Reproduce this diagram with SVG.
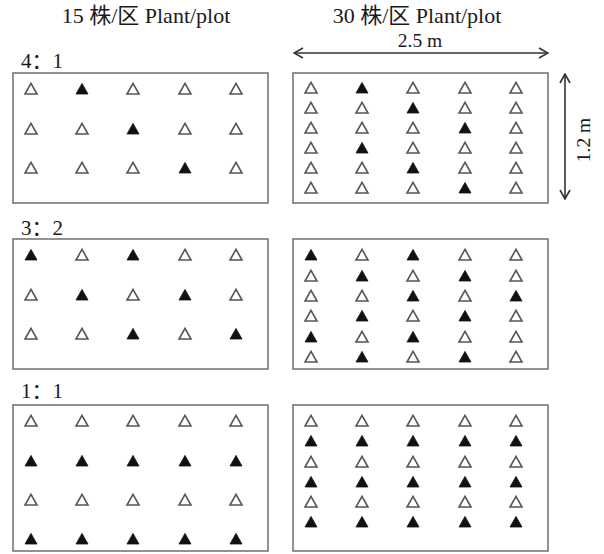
<svg xmlns="http://www.w3.org/2000/svg" xmlns:xlink="http://www.w3.org/1999/xlink" width="604" height="554" viewBox="0 0 604 554">
<style>
.bg{fill:#fff}
.plot{fill:#fff;stroke:#777;stroke-width:1.6}
.t{font-family:"Liberation Serif","Noto Sans CJK SC",serif;fill:#1a1a1a}
.title{font-size:22px}
.ratio{font-size:21px}
.dim{font-size:19.5px}
.o{fill:#fff;stroke:#555;stroke-width:1.6;stroke-linejoin:miter}
.f{fill:#111;stroke:#111;stroke-width:0.8}
.dl{stroke:#333;stroke-width:1.6;fill:none}
</style>
<defs>
<path id="tri" d="M0,-5.6 L6,5 L-6,5 Z"/>
<marker id="ah" viewBox="-11 -6 12 12" markerWidth="12" markerHeight="12" refX="0" refY="0" orient="auto-start-reverse" markerUnits="userSpaceOnUse">
<path d="M-9,-5 L0,0 L-9,5" fill="none" stroke="#333" stroke-width="1.6"/>
</marker>
</defs>
<rect class="bg" x="0" y="0" width="604" height="554"/>

<g id="headers">
<text class="t title" x="146" y="23" text-anchor="middle">15 株/区 Plant/plot</text>
<text class="t title" x="417" y="23" text-anchor="middle">30 株/区 Plant/plot</text>
</g>

<g id="labels">
<text class="t ratio" x="21" y="68">4：1</text>
<text class="t ratio" x="21" y="235">3：2</text>
<text class="t ratio" x="21" y="398">1：1</text>
</g>

<g id="connectors">
<line class="dl" x1="294" y1="53" x2="548" y2="53" marker-start="url(#ah)" marker-end="url(#ah)"/>
<text class="t dim" x="420" y="47" text-anchor="middle">2.5 m</text>
<line class="dl" x1="565" y1="74" x2="565" y2="199" marker-start="url(#ah)" marker-end="url(#ah)"/>
<text class="t dim" x="0" y="0" text-anchor="middle" transform="translate(590,140) rotate(-90)">1.2 m</text>
</g>

<g id="plot-4-1-15">
<rect class="plot" x="13" y="73" width="255" height="130"/>
<use href="#tri" class="o" x="31" y="89"/><use href="#tri" class="f" x="82" y="89"/><use href="#tri" class="o" x="133" y="89"/><use href="#tri" class="o" x="185" y="89"/><use href="#tri" class="o" x="236" y="89"/>
<use href="#tri" class="o" x="31" y="129"/><use href="#tri" class="o" x="82" y="129"/><use href="#tri" class="f" x="133" y="129"/><use href="#tri" class="o" x="185" y="129"/><use href="#tri" class="o" x="236" y="129"/>
<use href="#tri" class="o" x="31" y="168"/><use href="#tri" class="o" x="82" y="168"/><use href="#tri" class="o" x="133" y="168"/><use href="#tri" class="f" x="185" y="168"/><use href="#tri" class="o" x="236" y="168"/>
</g>

<g id="plot-4-1-30">
<rect class="plot" x="293" y="73" width="255" height="130"/>
<use href="#tri" class="o" x="311" y="88"/><use href="#tri" class="f" x="362" y="88"/><use href="#tri" class="o" x="413" y="88"/><use href="#tri" class="o" x="465" y="88"/><use href="#tri" class="o" x="516" y="88"/>
<use href="#tri" class="o" x="311" y="108"/><use href="#tri" class="o" x="362" y="108"/><use href="#tri" class="f" x="413" y="108"/><use href="#tri" class="o" x="465" y="108"/><use href="#tri" class="o" x="516" y="108"/>
<use href="#tri" class="o" x="311" y="128"/><use href="#tri" class="o" x="362" y="128"/><use href="#tri" class="o" x="413" y="128"/><use href="#tri" class="f" x="465" y="128"/><use href="#tri" class="o" x="516" y="128"/>
<use href="#tri" class="o" x="311" y="148"/><use href="#tri" class="f" x="362" y="148"/><use href="#tri" class="o" x="413" y="148"/><use href="#tri" class="o" x="465" y="148"/><use href="#tri" class="o" x="516" y="148"/>
<use href="#tri" class="o" x="311" y="168"/><use href="#tri" class="o" x="362" y="168"/><use href="#tri" class="f" x="413" y="168"/><use href="#tri" class="o" x="465" y="168"/><use href="#tri" class="o" x="516" y="168"/>
<use href="#tri" class="o" x="311" y="188"/><use href="#tri" class="o" x="362" y="188"/><use href="#tri" class="o" x="413" y="188"/><use href="#tri" class="f" x="465" y="188"/><use href="#tri" class="o" x="516" y="188"/>
</g>

<g id="plot-3-2-15">
<rect class="plot" x="13" y="239" width="255" height="130"/>
<use href="#tri" class="f" x="31" y="255"/><use href="#tri" class="o" x="82" y="255"/><use href="#tri" class="f" x="133" y="255"/><use href="#tri" class="o" x="185" y="255"/><use href="#tri" class="o" x="236" y="255"/>
<use href="#tri" class="o" x="31" y="295"/><use href="#tri" class="f" x="82" y="295"/><use href="#tri" class="o" x="133" y="295"/><use href="#tri" class="f" x="185" y="295"/><use href="#tri" class="o" x="236" y="295"/>
<use href="#tri" class="o" x="31" y="334"/><use href="#tri" class="o" x="82" y="334"/><use href="#tri" class="f" x="133" y="334"/><use href="#tri" class="o" x="185" y="334"/><use href="#tri" class="f" x="236" y="334"/>
</g>

<g id="plot-3-2-30">
<rect class="plot" x="293" y="239" width="255" height="130"/>
<use href="#tri" class="f" x="311" y="255"/><use href="#tri" class="o" x="362" y="255"/><use href="#tri" class="f" x="413" y="255"/><use href="#tri" class="o" x="465" y="255"/><use href="#tri" class="o" x="516" y="255"/>
<use href="#tri" class="o" x="311" y="276"/><use href="#tri" class="f" x="362" y="276"/><use href="#tri" class="o" x="413" y="276"/><use href="#tri" class="f" x="465" y="276"/><use href="#tri" class="o" x="516" y="276"/>
<use href="#tri" class="o" x="311" y="296"/><use href="#tri" class="o" x="362" y="296"/><use href="#tri" class="f" x="413" y="296"/><use href="#tri" class="o" x="465" y="296"/><use href="#tri" class="f" x="516" y="296"/>
<use href="#tri" class="o" x="311" y="316"/><use href="#tri" class="f" x="362" y="316"/><use href="#tri" class="o" x="413" y="316"/><use href="#tri" class="f" x="465" y="316"/><use href="#tri" class="o" x="516" y="316"/>
<use href="#tri" class="f" x="311" y="337"/><use href="#tri" class="o" x="362" y="337"/><use href="#tri" class="f" x="413" y="337"/><use href="#tri" class="o" x="465" y="337"/><use href="#tri" class="o" x="516" y="337"/>
<use href="#tri" class="o" x="311" y="357"/><use href="#tri" class="f" x="362" y="357"/><use href="#tri" class="o" x="413" y="357"/><use href="#tri" class="f" x="465" y="357"/><use href="#tri" class="o" x="516" y="357"/>
</g>

<g id="plot-1-1-15">
<rect class="plot" x="13" y="405" width="255" height="146"/>
<use href="#tri" class="o" x="31" y="421"/><use href="#tri" class="o" x="82" y="421"/><use href="#tri" class="o" x="133" y="421"/><use href="#tri" class="o" x="185" y="421"/><use href="#tri" class="o" x="236" y="421"/>
<use href="#tri" class="f" x="31" y="461"/><use href="#tri" class="f" x="82" y="461"/><use href="#tri" class="f" x="133" y="461"/><use href="#tri" class="f" x="185" y="461"/><use href="#tri" class="f" x="236" y="461"/>
<use href="#tri" class="o" x="31" y="500"/><use href="#tri" class="o" x="82" y="500"/><use href="#tri" class="o" x="133" y="500"/><use href="#tri" class="o" x="185" y="500"/><use href="#tri" class="o" x="236" y="500"/>
<use href="#tri" class="f" x="31" y="539"/><use href="#tri" class="f" x="82" y="539"/><use href="#tri" class="f" x="133" y="539"/><use href="#tri" class="f" x="185" y="539"/><use href="#tri" class="f" x="236" y="539"/>
</g>

<g id="plot-1-1-30">
<rect class="plot" x="293" y="405" width="255" height="146"/>
<use href="#tri" class="o" x="311" y="421"/><use href="#tri" class="o" x="362" y="421"/><use href="#tri" class="o" x="413" y="421"/><use href="#tri" class="o" x="465" y="421"/><use href="#tri" class="o" x="516" y="421"/>
<use href="#tri" class="f" x="311" y="441"/><use href="#tri" class="f" x="362" y="441"/><use href="#tri" class="f" x="413" y="441"/><use href="#tri" class="f" x="465" y="441"/><use href="#tri" class="f" x="516" y="441"/>
<use href="#tri" class="o" x="311" y="462"/><use href="#tri" class="o" x="362" y="462"/><use href="#tri" class="o" x="413" y="462"/><use href="#tri" class="o" x="465" y="462"/><use href="#tri" class="o" x="516" y="462"/>
<use href="#tri" class="f" x="311" y="482"/><use href="#tri" class="f" x="362" y="482"/><use href="#tri" class="f" x="413" y="482"/><use href="#tri" class="f" x="465" y="482"/><use href="#tri" class="f" x="516" y="482"/>
<use href="#tri" class="o" x="311" y="502"/><use href="#tri" class="o" x="362" y="502"/><use href="#tri" class="o" x="413" y="502"/><use href="#tri" class="o" x="465" y="502"/><use href="#tri" class="o" x="516" y="502"/>
<use href="#tri" class="f" x="311" y="522"/><use href="#tri" class="f" x="362" y="522"/><use href="#tri" class="f" x="413" y="522"/><use href="#tri" class="f" x="465" y="522"/><use href="#tri" class="f" x="516" y="522"/>
</g>
</svg>
